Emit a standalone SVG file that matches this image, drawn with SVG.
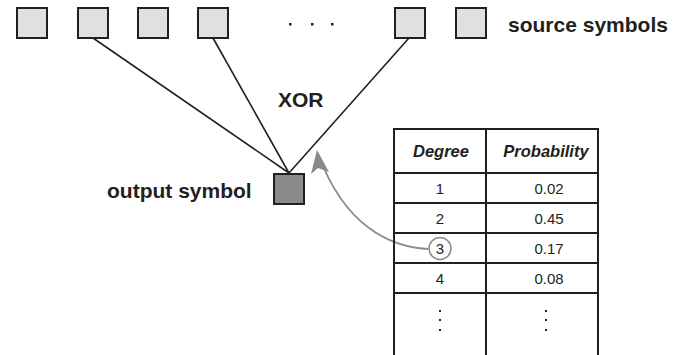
<svg xmlns="http://www.w3.org/2000/svg" width="685" height="355" viewBox="0 0 685 355">
<style>
.src{fill:#e0e0e2;stroke:#231f20;stroke-width:2}
.out{fill:#8a8a8c;stroke:#231f20;stroke-width:2}
.ln{stroke:#231f20;stroke-width:1.6;fill:none}
.tb{stroke:#231f20;stroke-width:2;fill:none}
.lbl{font-family:"Liberation Sans",Arial,sans-serif;font-weight:bold;font-size:21px;fill:#231f20}
.hd{font-family:"Liberation Sans",Arial,sans-serif;font-weight:bold;font-style:italic;font-size:16.5px;fill:#231f20;text-anchor:middle}
.cell{font-family:"Liberation Sans",Arial,sans-serif;font-size:15px;fill:#231f20;text-anchor:middle}
.dot{fill:#231f20}
</style>
<g id="connectors">
<line class="ln" x1="93" y1="38" x2="289" y2="173"/>
<line class="ln" x1="213" y1="38" x2="289" y2="173"/>
<line class="ln" x1="409" y1="38" x2="289" y2="173"/>
<path d="M428,249 C390,247 345,226 319,156" fill="none" stroke="#8a8a8c" stroke-width="1.8"/>
<path d="M317,150 L311,174 L318,168 L329,172 Z" fill="#8a8a8c"/>
</g>
<g id="src1"><rect class="src" x="17" y="8" width="30" height="30"/></g>
<g id="src2"><rect class="src" x="78" y="8" width="30" height="30"/></g>
<g id="src3"><rect class="src" x="138" y="8" width="30" height="30"/></g>
<g id="src4"><rect class="src" x="198" y="8" width="30" height="30"/></g>
<g id="ellipsis">
<rect class="dot" x="289" y="23" width="2.5" height="2.5"/>
<rect class="dot" x="311" y="23" width="2.5" height="2.5"/>
<rect class="dot" x="331" y="23" width="2.5" height="2.5"/>
</g>
<g id="src5"><rect class="src" x="395" y="8" width="30" height="30"/></g>
<g id="src6"><rect class="src" x="456" y="8" width="30" height="30"/></g>
<g id="source-label"><text class="lbl" x="508" y="32">source symbols</text></g>
<g id="xor-label"><text class="lbl" x="278" y="107">XOR</text></g>
<g id="output"><rect class="out" x="274" y="174" width="30" height="30"/>
<text class="lbl" x="107" y="198">output symbol</text></g>
<g id="table">
<line class="tb" x1="394" y1="128" x2="394" y2="355"/>
<line class="tb" x1="486" y1="128" x2="486" y2="355"/>
<line class="tb" x1="598" y1="128" x2="598" y2="355"/>
<line class="tb" x1="393" y1="129" x2="599" y2="129"/>
<line class="tb" x1="393" y1="173" x2="599" y2="173"/>
<line class="tb" x1="393" y1="203" x2="599" y2="203"/>
<line class="tb" x1="393" y1="233" x2="599" y2="233"/>
<line class="tb" x1="393" y1="263" x2="599" y2="263"/>
<line class="tb" x1="393" y1="293" x2="599" y2="293"/>
<text class="hd" x="441" y="157">Degree</text>
<text class="hd" x="546" y="157">Probability</text>
<text class="cell" x="440" y="194">1</text><text class="cell" x="549" y="194">0.02</text>
<text class="cell" x="440" y="224">2</text><text class="cell" x="549" y="224">0.45</text>
<text class="cell" x="440" y="254">3</text><text class="cell" x="549" y="254">0.17</text>
<text class="cell" x="440" y="284">4</text><text class="cell" x="549" y="284">0.08</text>
<circle cx="440" cy="248.5" r="11" fill="none" stroke="#8a8a8c" stroke-width="1.5"/>
<rect class="dot" x="439" y="310" width="2" height="2"/>
<rect class="dot" x="439" y="319" width="2" height="2"/>
<rect class="dot" x="439" y="329" width="2" height="2"/>
<rect class="dot" x="545" y="310" width="2" height="2"/>
<rect class="dot" x="545" y="319" width="2" height="2"/>
<rect class="dot" x="545" y="329" width="2" height="2"/>
</g>
</svg>
